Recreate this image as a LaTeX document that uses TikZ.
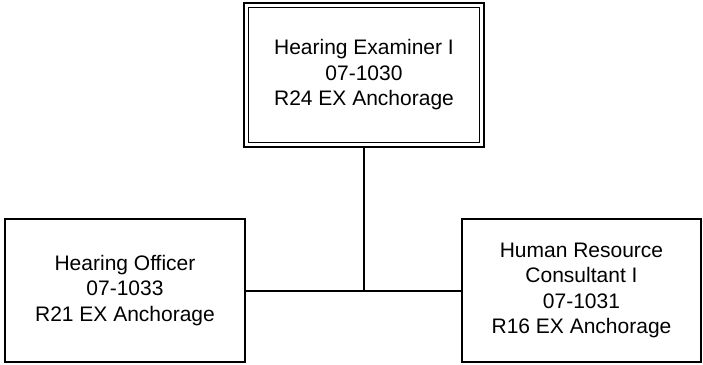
\documentclass[tikz,border=0pt]{standalone}
\usepackage{fontspec}
\setmainfont{Liberation Sans}
\begin{document}
\begin{tikzpicture}[x=1pt,y=-1pt,
  box/.style={draw=black,line width=1.6pt,align=center,inner sep=0pt,
    font=\fontsize{21}{25.5}\selectfont},
  conn/.style={line width=1.6pt}]
\useasboundingbox (0,0) rectangle (703,364);
% top box (double border)
\draw[line width=2pt] (244,3) rectangle (484,147);
\node[box,line width=1.3pt,minimum width=231pt,minimum height=135pt] (top) at (364,75)
  {Hearing Examiner I\\07-1030\\R24 EX Anchorage};
\coordinate (topb) at (364,147);
\node[box,minimum width=240pt,minimum height=143pt] (left) at (125,290.5)
  {Hearing Officer\\07-1033\\R21 EX Anchorage};
\node[box,minimum width=239pt,minimum height=143pt] (right) at (581.5,290.5)
  {Human Resource\\Consultant I\\07-1031\\R16 EX Anchorage};
\coordinate (j) at (364,291);
\draw[conn] (topb) -- (j);
\draw[conn] (left.east |- j) -- (right.west |- j);
\end{tikzpicture}
\end{document}
